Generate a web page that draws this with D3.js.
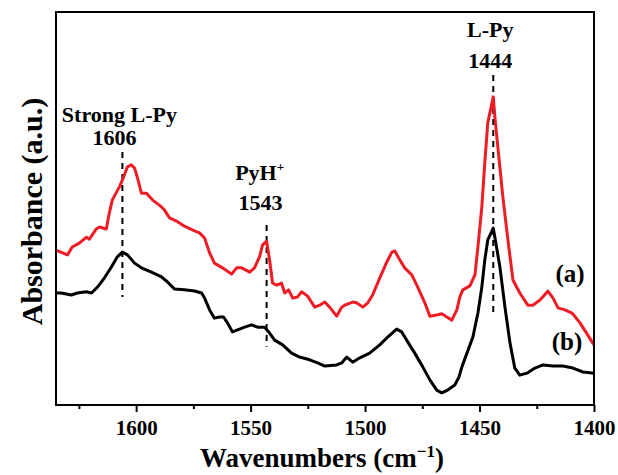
<!DOCTYPE html>
<html>
<head>
<meta charset="utf-8">
<script src="https://cdn.jsdelivr.net/npm/d3@7/dist/d3.min.js"></script>
<style>
  html, body { margin: 0; padding: 0; background: #fff; }
  svg { display: block; }
  text { font-family: "Liberation Serif", "Times New Roman", serif; font-weight: bold; fill: #000; }
</style>
</head>
<body>
<svg id="chart" width="618" height="475"></svg>
<script>
// FTIR spectra of adsorbed pyridine, wavenumbers in cm^-1, absorbance in arbitrary units
const wavenumbersA = [1635, 1630.0, 1627.9, 1624.8, 1621.7, 1620.4, 1617.4, 1616.0, 1613.0, 1612.1, 1610.4, 1607.3, 1605.6, 1603.8, 1602.1, 1600.7, 1599.4, 1597.7, 1595.5, 1592.9, 1588.9, 1587.6, 1585.4, 1582.4, 1578.9, 1574.5, 1572.3, 1570.1, 1567.9, 1565.8, 1562.3, 1558.3, 1556.1, 1553.9, 1550.4, 1548.3, 1546.1, 1544.8, 1543.0, 1541.7, 1540.4, 1538.6, 1536.5, 1535.1, 1533.4, 1531.6, 1529.5, 1527.7, 1525.1, 1522.0, 1519.8, 1517.6, 1515.5, 1512.4, 1510.2, 1508.9, 1505.4, 1503.7, 1501.0, 1498.8, 1496.7, 1493.6, 1490.5, 1488.3, 1487.0, 1484.8, 1482.7, 1479.6, 1477.0, 1473.9, 1471.7, 1468.7, 1466.5, 1464.3, 1462.1, 1459.9, 1458.6, 1457.3, 1454.2, 1452.0, 1450.7, 1449.0, 1447.7, 1446.4, 1444.0, 1443.3, 1442.0, 1439.8, 1437.6, 1435.4, 1432.4, 1428.9, 1426.7, 1423.6, 1420.1, 1417.9, 1415.7, 1412.7, 1409.6, 1406.1, 1400];
const absorbanceA = [0.394, 0.382, 0.402, 0.412, 0.427, 0.422, 0.448, 0.453, 0.448, 0.478, 0.522, 0.555, 0.578, 0.606, 0.611, 0.603, 0.578, 0.539, 0.539, 0.522, 0.504, 0.496, 0.476, 0.468, 0.455, 0.443, 0.438, 0.425, 0.387, 0.361, 0.349, 0.333, 0.349, 0.349, 0.338, 0.349, 0.377, 0.407, 0.417, 0.369, 0.310, 0.305, 0.310, 0.285, 0.293, 0.272, 0.275, 0.288, 0.277, 0.249, 0.254, 0.262, 0.249, 0.226, 0.249, 0.254, 0.262, 0.260, 0.249, 0.260, 0.280, 0.323, 0.364, 0.389, 0.392, 0.369, 0.349, 0.331, 0.300, 0.260, 0.226, 0.229, 0.232, 0.224, 0.216, 0.242, 0.275, 0.293, 0.303, 0.331, 0.402, 0.504, 0.616, 0.718, 0.784, 0.733, 0.656, 0.529, 0.420, 0.318, 0.285, 0.254, 0.254, 0.267, 0.290, 0.272, 0.247, 0.242, 0.234, 0.209, 0.153];

const wavenumbersB = [1635, 1632.7, 1628.3, 1625.7, 1621.7, 1619.5, 1616.9, 1613.9, 1610.8, 1608.2, 1606.0, 1603.8, 1600.7, 1597.7, 1593.3, 1588.9, 1586.3, 1583.2, 1578.9, 1574.5, 1571.4, 1570.1, 1567.9, 1565.8, 1563.6, 1561.8, 1560.1, 1557.9, 1555.7, 1552.6, 1549.6, 1546.9, 1543.9, 1541.7, 1539.5, 1536.0, 1532.1, 1528.6, 1524.2, 1520.7, 1517.6, 1512.4, 1510.2, 1508.0, 1505.4, 1502.3, 1498.0, 1493.6, 1490.1, 1486.2, 1484.0, 1481.3, 1478.3, 1474.8, 1471.7, 1468.7, 1466.5, 1463.9, 1460.8, 1459.0, 1457.7, 1455.5, 1452.9, 1450.7, 1449.0, 1447.7, 1446.4, 1444.0, 1443.3, 1441.1, 1438.9, 1436.7, 1434.6, 1432.4, 1429.3, 1425.8, 1422.3, 1417.9, 1413.6, 1409.2, 1404.8, 1400];
const absorbanceB = [0.285, 0.285, 0.280, 0.285, 0.288, 0.285, 0.300, 0.323, 0.351, 0.377, 0.389, 0.382, 0.361, 0.349, 0.338, 0.326, 0.313, 0.295, 0.293, 0.290, 0.285, 0.272, 0.242, 0.221, 0.224, 0.224, 0.209, 0.186, 0.191, 0.198, 0.204, 0.198, 0.198, 0.183, 0.165, 0.153, 0.132, 0.122, 0.115, 0.107, 0.099, 0.102, 0.107, 0.122, 0.109, 0.120, 0.132, 0.153, 0.173, 0.193, 0.186, 0.160, 0.132, 0.097, 0.064, 0.038, 0.031, 0.038, 0.051, 0.071, 0.097, 0.132, 0.173, 0.234, 0.300, 0.369, 0.420, 0.450, 0.427, 0.351, 0.249, 0.158, 0.094, 0.076, 0.081, 0.094, 0.102, 0.099, 0.099, 0.094, 0.084, 0.081];

// Axis ticks
const majorTicks = [1600, 1550, 1500, 1450, 1400];
const minorTicks = [1625, 1575, 1525, 1475, 1425];

// Band assignments: wavenumber, label, extent of the marker line (absorbance units)
const bandWavenumbers = [1606, 1543, 1444];
const bandNames = ["Strong L-Py", "PyH", "L-Py"];
const bandLineTop = [0.644, 0.458, 0.840];
const bandLineBottom = [0.275, 0.148, 0.224];

const seriesLabels = ["(a)", "(b)"];

const svg = d3.select("#chart");
const margin = { left: 56, right: 24, top: 12, bottom: 70 };
const W = 618, H = 475;
const x = d3.scaleLinear().domain([1635, 1400]).range([margin.left, W - margin.right]);
const y = d3.scaleLinear().domain([0, 1]).range([H - margin.bottom, margin.top]);

const seriesA = wavenumbersA.map((w, i) => ({ w, a: absorbanceA[i] }));
const seriesB = wavenumbersB.map((w, i) => ({ w, a: absorbanceB[i] }));

const line = d3.line().x(d => x(d.w)).y(d => y(d.a)).curve(d3.curveLinear);

const plot = svg.append("g");
plot.append("defs").append("clipPath").attr("id", "clip")
  .append("rect")
  .attr("x", margin.left).attr("y", margin.top)
  .attr("width", W - margin.left - margin.right)
  .attr("height", H - margin.top - margin.bottom);

// Band marker lines
bandWavenumbers.forEach((w, i) => {
  plot.append("line")
    .attr("x1", x(w)).attr("x2", x(w))
    .attr("y1", y(bandLineTop[i])).attr("y2", y(bandLineBottom[i]))
    .attr("stroke", "#000").attr("stroke-width", 2)
    .attr("stroke-dasharray", "6,5");
});

// Spectra
plot.append("path").datum(seriesB)
  .attr("d", line).attr("fill", "none")
  .attr("stroke", "#000").attr("stroke-width", 3)
  .attr("stroke-linejoin", "round")
  .attr("clip-path", "url(#clip)");
plot.append("path").datum(seriesA)
  .attr("d", line).attr("fill", "none")
  .attr("stroke", "#ee1c24").attr("stroke-width", 3)
  .attr("stroke-linejoin", "round")
  .attr("clip-path", "url(#clip)");

// Frame
svg.append("rect")
  .attr("x", margin.left).attr("y", margin.top)
  .attr("width", W - margin.left - margin.right)
  .attr("height", H - margin.top - margin.bottom)
  .attr("fill", "none").attr("stroke", "#000").attr("stroke-width", 2);

// Bottom axis
const xAxis = d3.axisBottom(x).tickValues(majorTicks).tickSize(7).tickPadding(8)
  .tickFormat(d3.format("d"));
const gx = svg.append("g").attr("transform", `translate(0,${H - margin.bottom})`).call(xAxis);
gx.select(".domain").remove();
gx.selectAll(".tick line").attr("stroke", "#000").attr("stroke-width", 2);
gx.selectAll(".tick text")
  .attr("font-family", "Liberation Serif, Times New Roman, serif")
  .attr("font-weight", "bold").attr("font-size", 21).attr("fill", "#000");
const gxMinor = svg.append("g").attr("transform", `translate(0,${H - margin.bottom})`)
  .call(d3.axisBottom(x).tickValues(minorTicks).tickSize(4).tickFormat(""));
gxMinor.select(".domain").remove();
gxMinor.selectAll(".tick line").attr("stroke", "#000").attr("stroke-width", 2);

// Axis titles
const xt = svg.append("text")
  .attr("x", (margin.left + W - margin.right) / 2 - 3).attr("y", 467)
  .attr("text-anchor", "middle").attr("font-size", 27);
xt.append("tspan").text("Wavenumbers (cm");
xt.append("tspan").attr("dy", -10).attr("font-size", 17).text("−1");
xt.append("tspan").attr("dy", 10).text(")");

svg.append("text")
  .attr("transform", `translate(42,${(margin.top + H - margin.bottom) / 2 + 3}) rotate(-90)`)
  .attr("text-anchor", "middle").attr("font-size", 30)
  .text("Absorbance (a.u.)");

// Band labels
const fmt = d3.format("d");
// 1606
svg.append("text").attr("x", x(bandWavenumbers[0]) - 3).attr("y", 122)
  .attr("text-anchor", "middle").attr("font-size", 22).text(bandNames[0]);
svg.append("text").attr("x", x(bandWavenumbers[0]) - 8).attr("y", 145)
  .attr("text-anchor", "middle").attr("font-size", 22).text(fmt(bandWavenumbers[0]));
// 1543
const pyh = svg.append("text").attr("x", x(bandWavenumbers[1]) - 7).attr("y", 180)
  .attr("text-anchor", "middle").attr("font-size", 22);
pyh.append("tspan").text(bandNames[1]);
pyh.append("tspan").attr("dy", -9).attr("font-size", 13).text("+");
svg.append("text").attr("x", x(bandWavenumbers[1]) - 6).attr("y", 210)
  .attr("text-anchor", "middle").attr("font-size", 22).text(fmt(bandWavenumbers[1]));
// 1444
svg.append("text").attr("x", x(bandWavenumbers[2]) - 3).attr("y", 37)
  .attr("text-anchor", "middle").attr("font-size", 22).text(bandNames[2]);
svg.append("text").attr("x", x(bandWavenumbers[2]) - 3).attr("y", 68)
  .attr("text-anchor", "middle").attr("font-size", 22).text(fmt(bandWavenumbers[2]));

// Series labels
svg.append("text").attr("x", 570).attr("y", 282)
  .attr("text-anchor", "middle").attr("font-size", 25).text(seriesLabels[0]);
svg.append("text").attr("x", 567).attr("y", 350)
  .attr("text-anchor", "middle").attr("font-size", 25).text(seriesLabels[1]);
</script>
</body>
</html>
